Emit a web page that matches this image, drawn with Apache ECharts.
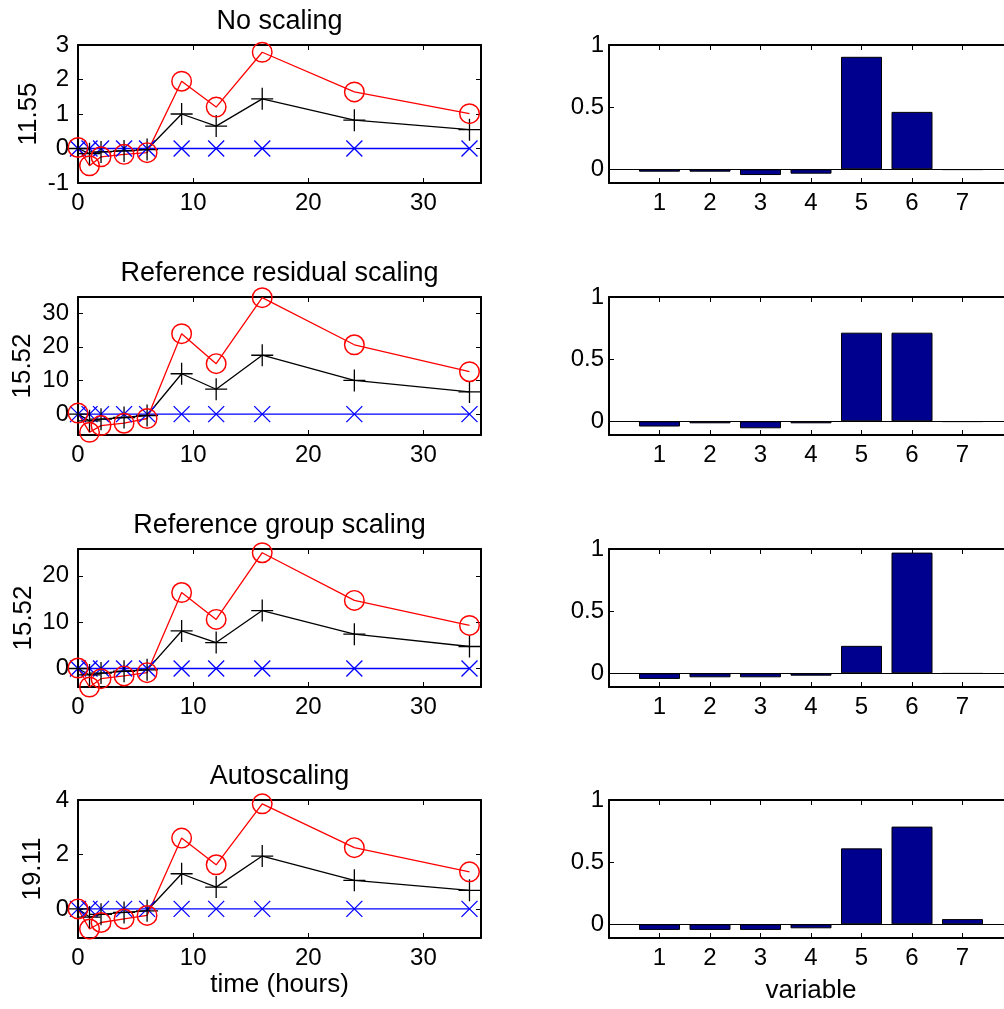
<!DOCTYPE html>
<html><head><meta charset="utf-8">
<script src="https://cdn.jsdelivr.net/npm/echarts@6/dist/echarts.min.js"></script>
<style>html,body{margin:0;padding:0;background:#fff}#c{width:1004px;height:1009px}</style>
</head><body><div id="c"></div>
<script>
// ---- data ----
const times = [0, 1, 2, 4, 6, 9, 12, 16, 24, 34];
const titles = ['No scaling', 'Reference residual scaling', 'Reference group scaling', 'Autoscaling'];
const yNames = ['11.55', '15.52', '15.52', '19.11'];

const redP1 = [0.03, -0.5, -0.24, -0.17, -0.12, 1.95, 1.2, 2.79, 1.64, 1.01];
const blackP1 = [0, -0.15, -0.1, -0.07, -0.03, 1.0, 0.65, 1.44, 0.82, 0.545];
const redP2 = [0.3, -5.4, -3.4, -2.7, -1.3, 23.9, 15.0, 34.6, 20.6, 12.6];
const blackP2 = [0, -2.0, -1.5, -1.0, -0.4, 12.0, 7.4, 17.5, 10.0, 6.6];
const redP3 = [0.1, -4.0, -2.2, -1.6, -0.9, 16.4, 10.6, 25.0, 14.7, 9.3];
const blackP3 = [0, -1.4, -1.0, -0.6, -0.3, 8.1, 5.6, 12.5, 7.4, 4.75];
const redP4 = [0.0, -0.74, -0.5, -0.37, -0.24, 2.6, 1.62, 3.86, 2.25, 1.36];
const blackP4 = [0, -0.3, -0.2, -0.13, -0.07, 1.29, 0.8, 1.94, 1.05, 0.68];
const blueAll = [0, 0, 0, 0, 0, 0, 0, 0, 0, 0];

const timeTicks = [0, 10, 20, 30];
const yTicksP1 = [-1, 0, 1, 2, 3];
const yTicksP2 = [0, 10, 20, 30];
const yTicksP3 = [0, 10, 20];
const yTicksP4 = [0, 2, 4];
const yMinLeft = [-1, -6.2, -4.0, -1.07];
const yMaxLeft = [3, 34.8, 25.8, 4];

const variables = [1, 2, 3, 4, 5, 6, 7];
const barP1 = [-0.019, -0.019, -0.046, -0.035, 0.905, 0.462, -0.004];
const barP2 = [-0.042, -0.016, -0.056, -0.016, 0.713, 0.713, -0.004];
const barP3 = [-0.045, -0.032, -0.032, -0.019, 0.221, 0.971, -0.002];
const barP4 = [-0.045, -0.045, -0.045, -0.032, 0.611, 0.786, 0.042];
const barTicks = [0, 0.5, 1];

// ---- build ----
const reds = [redP1, redP2, redP3, redP4];
const blacks = [blackP1, blackP2, blackP3, blackP4];
const bars = [barP1, barP2, barP3, barP4];
const yTicksLeft = [yTicksP1, yTicksP2, yTicksP3, yTicksP4];

const FONT = '"Liberation Sans", Arial, sans-serif';
const tops = [45, 297, 549, 800];
const H = 138;
const leftNameGap = [36, 42, 41, 32];

const grid = [], xAxis = [], yAxis = [], series = [], graphic = [];
const ringPath = 'path://M0,-10 A10,10 0 1,1 0,10 A10,10 0 1,1 0,-10 Z M0,-8.6 A8.6,8.6 0 1,0 0,8.6 A8.6,8.6 0 1,0 0,-8.6 Z';
const plusPath = 'path://M0,-10 L0,10 M-10,0 L10,0';
const crossPath = 'path://M-10,-10 L10,10 M-10,10 L10,-10';

function axisBase(min, max, ticks, showLabel, pos, gi, extra) {
  return Object.assign({
    type: 'value', gridIndex: gi, min: min, max: max, position: pos,
    splitLine: { show: false },
    axisLine: { show: true, onZero: false, lineStyle: { color: '#000', width: 2 } },
    axisTick: { show: true, inside: true, length: 5, customValues: ticks, lineStyle: { color: '#000', width: 1 } },
    axisLabel: { show: showLabel, customValues: ticks, fontSize: 24, fontFamily: FONT, color: '#000', margin: 8 }
  }, extra || {});
}

for (let p = 0; p < 4; p++) {
  const g = p;
  grid.push({ left: 78, width: 403, top: tops[p], height: H, containLabel: false, outerBoundsMode: 'none' });
  const xExtra = p === 3 ? { name: 'time (hours)', nameLocation: 'middle', nameGap: 34,
    nameTextStyle: { fontSize: 26, fontFamily: FONT, color: '#000' } } : {};
  xAxis.push(axisBase(0, 35, timeTicks, true, 'bottom', g, xExtra));
  xAxis.push(axisBase(0, 35, timeTicks, false, 'top', g));
  yAxis.push(axisBase(yMinLeft[p], yMaxLeft[p], yTicksLeft[p], true, 'left', g, {
    name: yNames[p], nameLocation: 'middle', nameGap: leftNameGap[p], nameRotate: 90,
    nameTextStyle: { fontSize: 26, fontFamily: FONT, color: '#000' }
  }));
  yAxis.push(axisBase(yMinLeft[p], yMaxLeft[p], yTicksLeft[p], false, 'right', g));
  yAxis[yAxis.length - 2].axisLabel.margin = 9;

  const mk = (vals) => times.map((t, i) => [t, vals[i]]);
  series.push({
    type: 'line', xAxisIndex: 2 * g, yAxisIndex: 2 * g, data: mk(blueAll), clip: false,
    symbol: crossPath, symbolSize: 16, showAllSymbol: true,
    lineStyle: { color: '#0000ff', width: 1.3 },
    itemStyle: { color: '#0000ff', borderColor: '#0000ff', borderWidth: 1.3 }
  });
  series.push({
    type: 'line', xAxisIndex: 2 * g, yAxisIndex: 2 * g, data: mk(blacks[p]), clip: false,
    symbol: plusPath, symbolSize: 22, showAllSymbol: true,
    lineStyle: { color: '#000000', width: 1.3 },
    itemStyle: { color: '#000000', borderColor: '#000000', borderWidth: 1.3 }
  });
  series.push({
    type: 'line', xAxisIndex: 2 * g, yAxisIndex: 2 * g, data: mk(reds[p]), clip: false,
    symbol: ringPath, symbolSize: 21, showAllSymbol: true,
    lineStyle: { color: '#ff0000', width: 1.3 },
    itemStyle: { color: '#ff0000', borderWidth: 0 }
  });

  graphic.push({
    type: 'text', x: 279.5, y: tops[p] - 23, silent: true,
    style: { text: titles[p], fill: '#000', fontSize: 27, fontFamily: FONT, align: 'center', verticalAlign: 'middle' }
  });
}

for (let p = 0; p < 4; p++) {
  const g = 4 + p;
  grid.push({ left: 609, width: 404, top: tops[p], height: H, containLabel: false, outerBoundsMode: 'none' });
  const xExtra = p === 3 ? { name: 'variable', nameLocation: 'middle', nameGap: 40,
    nameTextStyle: { fontSize: 26, fontFamily: FONT, color: '#000' } } : {};
  xAxis.push(axisBase(0, 8, variables, true, 'bottom', g, xExtra));
  xAxis.push(axisBase(0, 8, variables, false, 'top', g));
  const ya = axisBase(-0.11, 1, barTicks, true, 'left', g);
  ya.axisLabel.margin = 5;
  yAxis.push(ya);
  yAxis.push(axisBase(-0.11, 1, barTicks, false, 'right', g));
  series.push({
    type: 'bar', xAxisIndex: 2 * g, yAxisIndex: 2 * g,
    data: variables.map((v, i) => [v, bars[p][i]]),
    barWidth: 41,
    itemStyle: { color: '#00008f', borderColor: '#000', borderWidth: 1 },
    markLine: {
      silent: true, symbol: 'none', label: { show: false },
      lineStyle: { color: '#000', width: 1, type: 'solid' },
      data: [{ yAxis: 0 }]
    }
  });
}

const chart = echarts.init(document.getElementById('c'), null, { renderer: 'canvas' });
chart.setOption({
  animation: false,
  backgroundColor: '#fff',
  grid: grid, xAxis: xAxis, yAxis: yAxis, series: series, graphic: graphic
});
</script></body></html>
